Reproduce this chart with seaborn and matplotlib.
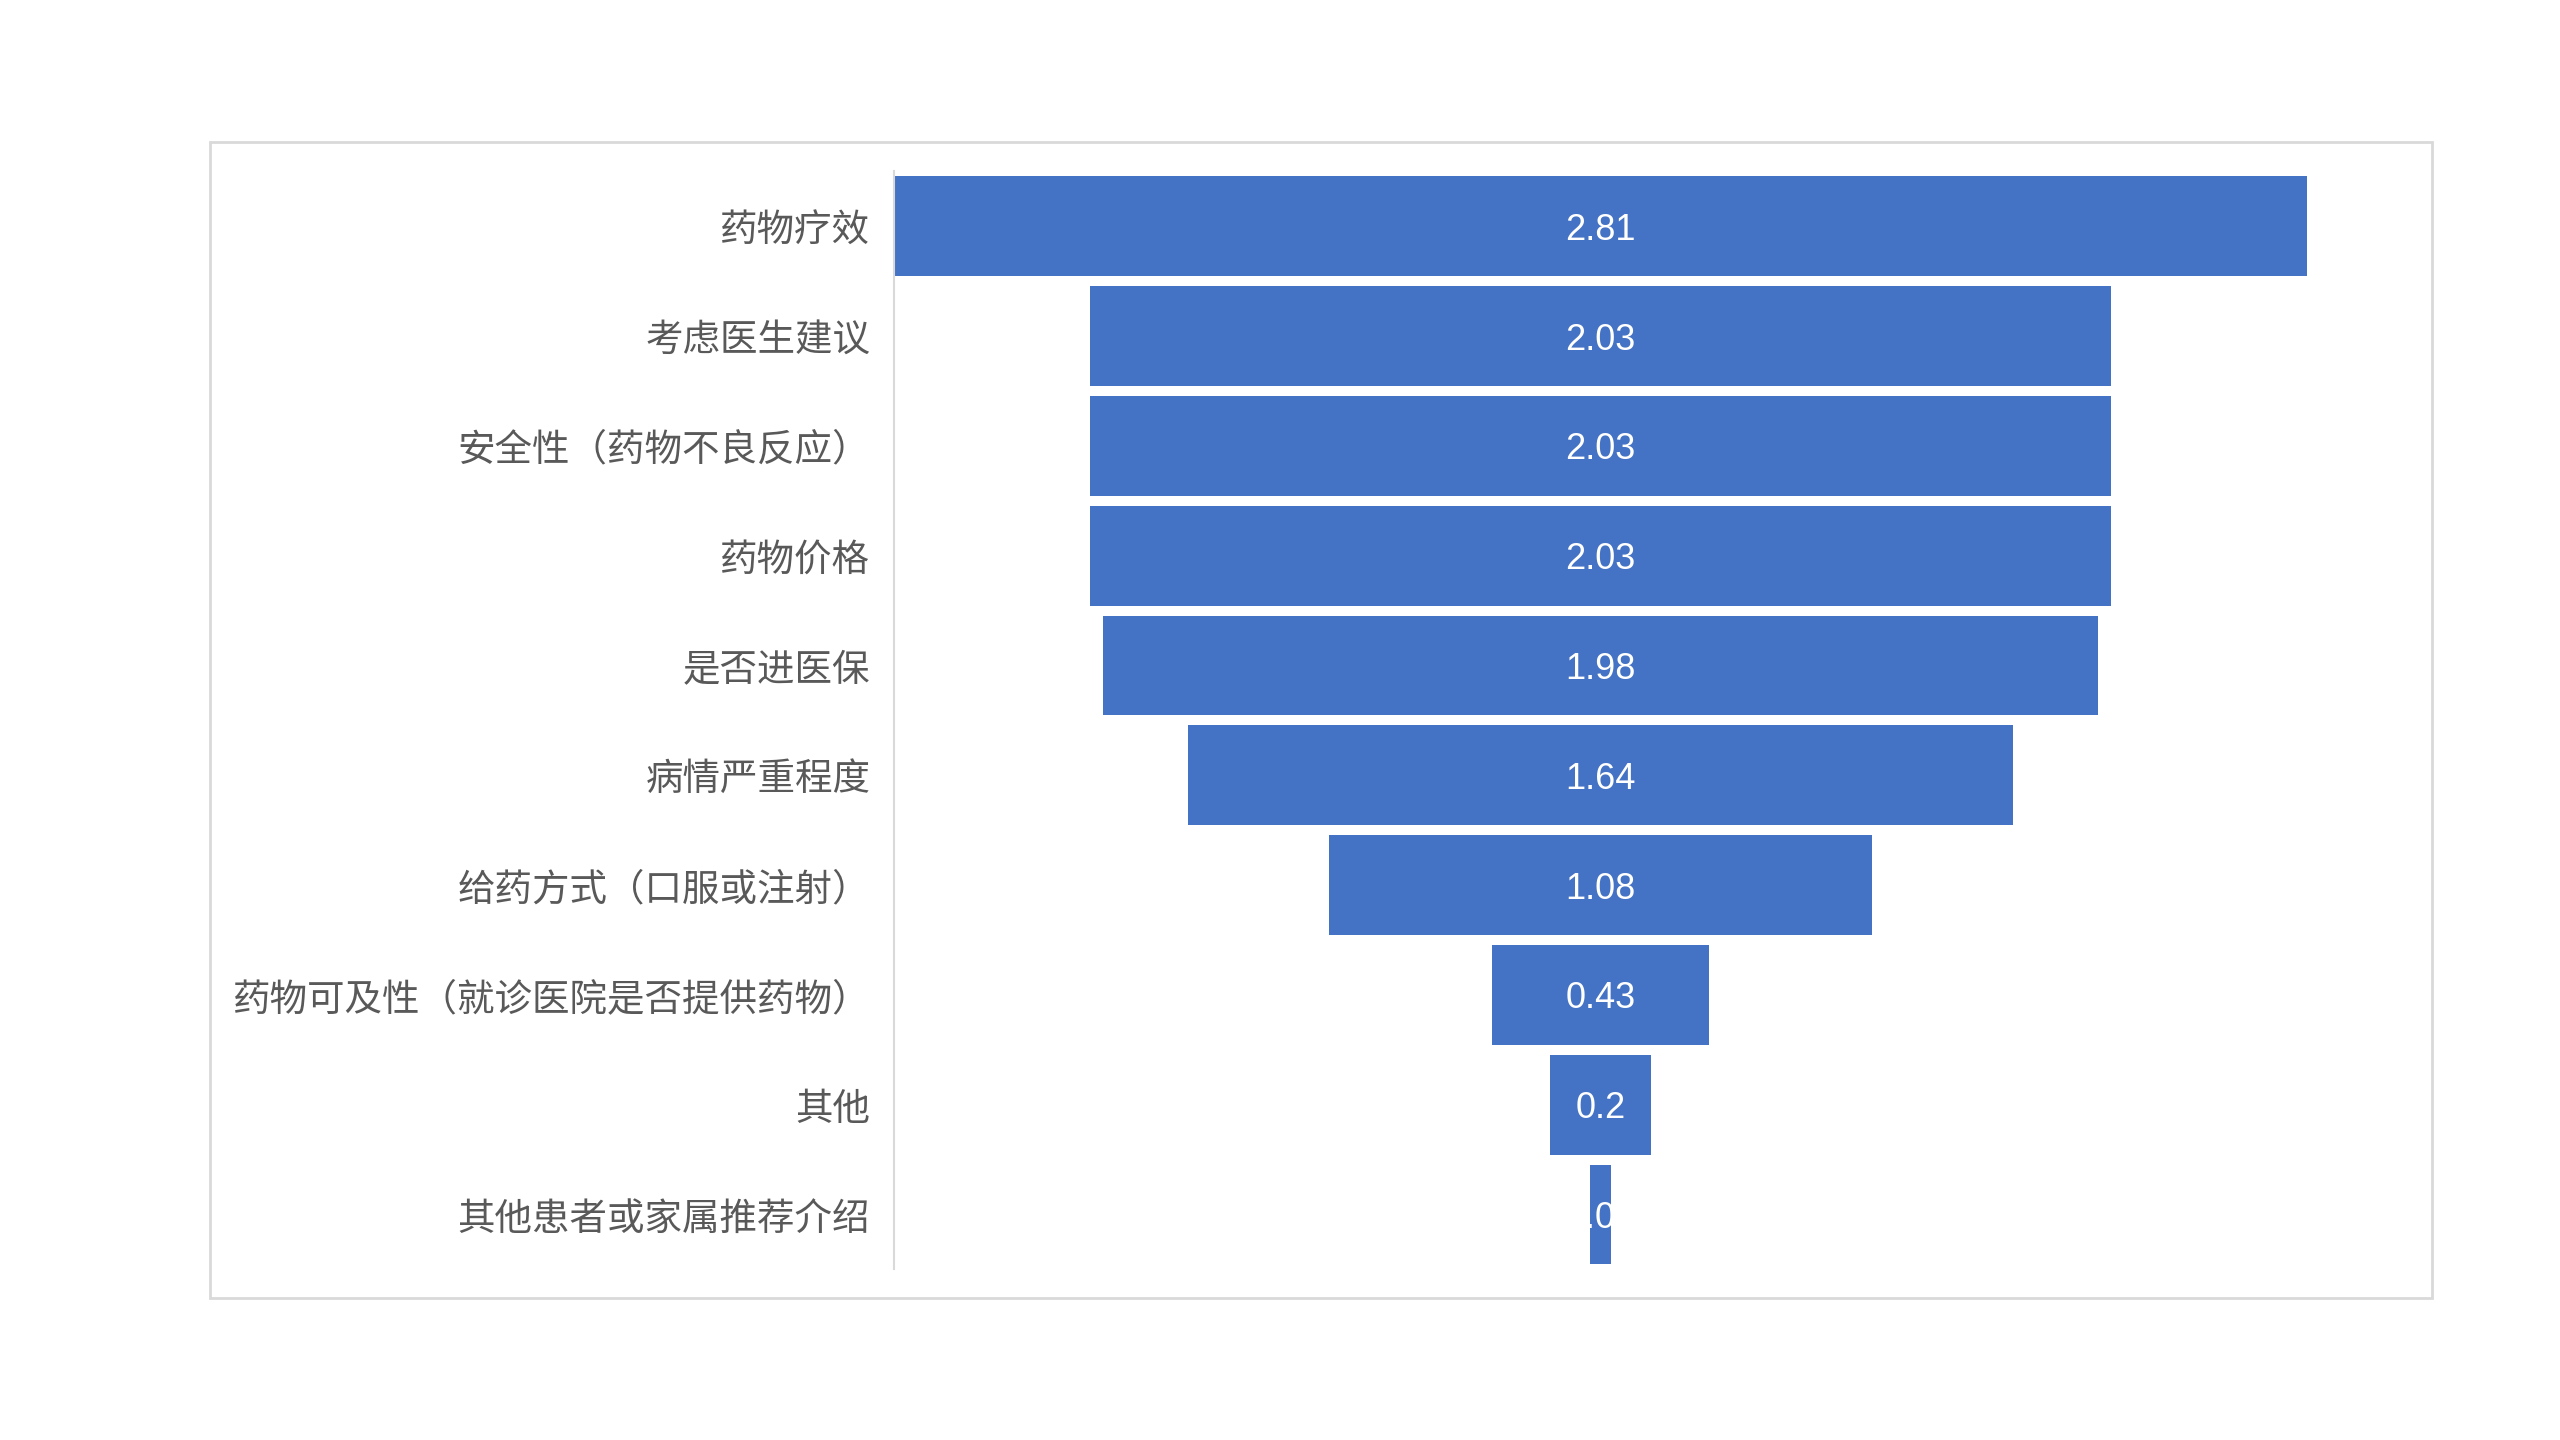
import matplotlib
matplotlib.use("Agg")
import matplotlib.pyplot as plt
import seaborn as sns
import pandas as pd
from matplotlib.patches import Rectangle

categories = ["药物疗效", "考虑医生建议", "安全性（药物不良反应）", "药物价格", "是否进医保",
              "病情严重程度", "给药方式（口服或注射）", "药物可及性（就诊医院是否提供药物）",
              "其他", "其他患者或家属推荐介绍"]
values = [2.81, 2.03, 2.03, 2.03, 1.98, 1.64, 1.08, 0.43, 0.2, 0.04]
value_labels = ["2.81", "2.03", "2.03", "2.03", "1.98", "1.64", "1.08", "0.43", "0.2", "0.04"]

sns.set_theme(style="white")
plt.rcParams['font.family'] = ['Noto Sans CJK SC', 'DejaVu Sans']

df = pd.DataFrame({"cat": categories, "val": values})

fig = plt.figure(figsize=(25.6, 14.4), dpi=100)
fig.patch.set_facecolor("white")

# outer frame
fig.add_artist(Rectangle((0.0822, 0.0986), 0.95 - 0.0822, 0.9014 - 0.0986,
                         transform=fig.transFigure, fill=False,
                         edgecolor="#d9d9d9", linewidth=2.0))

ax = fig.add_axes([0.3492, 0.1185, 0.552, 0.7625])
sns.barplot(data=df, x="val", y="cat", orient="h", color="#4472C4",
            saturation=1, width=0.91, ax=ax, errorbar=None)

# center bars to form funnel
for p, v, lab in zip(ax.patches, values, value_labels):
    p.set_x(-v / 2)
    p.set_linewidth(0)
    y = p.get_y() + p.get_height() / 2
    t = ax.text(0, y, lab, ha="center", va="center_baseline", color="white",
                fontsize=26, family=["Liberation Sans", "DejaVu Sans"])
    t.set_clip_path(p)

m = max(values) / 2
ax.set_xlim(-m, m)
ax.set_ylim(len(categories) - 0.5, -0.5)
ax.set_xlabel("")
ax.set_ylabel("")
ax.set_xticks([])
ax.tick_params(axis="y", length=0, pad=17, labelsize=27, labelcolor="#595959")
for s in ["top", "right", "bottom"]:
    ax.spines[s].set_visible(False)
ax.spines["left"].set_color("#d9d9d9")
ax.spines["left"].set_linewidth(1.5)
ax.set_facecolor("none")

fig.savefig("out.png", dpi=100, facecolor="white")
